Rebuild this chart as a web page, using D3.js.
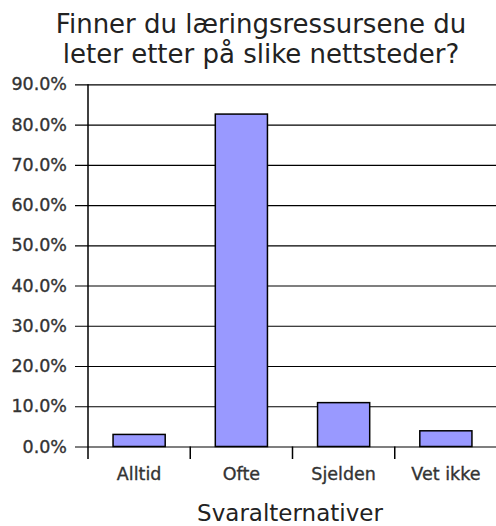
<!DOCTYPE html>
<html>
<head>
<meta charset="utf-8">
<script src="https://cdn.jsdelivr.net/npm/d3@7"></script>
<style>
  html, body { margin: 0; padding: 0; background: #fff; }
  svg { display: block; }
  text { font-family: "DejaVu Sans", sans-serif; }
</style>
</head>
<body>
<svg id="chart" width="496" height="526"></svg>
<script>
const titleLines = ["Finner du læringsressursene du", "leter etter på slike nettsteder?"];
const categories = ["Alltid", "Ofte", "Sjelden", "Vet ikke"];
const values = [3.0, 82.6, 10.9, 3.9];
const yTicks = [0, 10, 20, 30, 40, 50, 60, 70, 80, 90];
const xAxisTitle = "Svaralternativer";

const svg = d3.select("#chart");
const plotLeft = 88, plotRight = 497, plotTop = 84.3, plotBottom = 446.5;

const x = d3.scaleBand().domain(categories).range([plotLeft, plotRight]).paddingInner(0.49).paddingOuter(0.245);
const y = d3.scaleLinear().domain([0, 90]).range([plotBottom, plotTop]);

// title
svg.append("text")
  .attr("x", 261).attr("y", 33)
  .attr("text-anchor", "middle")
  .attr("font-size", 26)
  .attr("fill", "#222")
  .selectAll("tspan").data(titleLines).join("tspan")
  .attr("x", 261).attr("dy", (d, i) => i === 0 ? 0 : 30)
  .text(d => d);

// y grid + labels
const yAxis = d3.axisLeft(y).tickValues(yTicks)
  .tickSize(-(496 - 75)).tickPadding(8)
  .tickFormat(d => d.toFixed(1) + "%");
const gy = svg.append("g").attr("transform", "translate(75,0)").call(yAxis);
gy.select(".domain").remove();
gy.selectAll(".tick line").attr("stroke", "#000").attr("stroke-width", 1.2);
gy.selectAll(".tick text")
  .attr("font-family", "DejaVu Sans, sans-serif")
  .attr("font-size", 17.5)
  .attr("fill", "#333")
  .attr("stroke", "#333").attr("stroke-width", 0.35);

// bars
svg.append("g").selectAll("rect").data(categories).join("rect")
  .attr("x", d => x(d))
  .attr("y", (d, i) => y(values[i]))
  .attr("width", x.bandwidth())
  .attr("height", (d, i) => y(0) - y(values[i]))
  .attr("fill", "#9999ff")
  .attr("stroke", "#000")
  .attr("stroke-width", 1.5);

// y axis line
svg.append("line")
  .attr("x1", plotLeft).attr("x2", plotLeft)
  .attr("y1", y(90)).attr("y2", plotBottom + 12.5)
  .attr("stroke", "#000").attr("stroke-width", 1.5);

// x axis ticks at band boundaries + labels
const xAxis = d3.axisBottom(x).tickSize(0).tickPadding(21);
const gx = svg.append("g").attr("transform", `translate(0,${plotBottom})`).call(xAxis);
gx.select(".domain").remove();
gx.selectAll(".tick text")
  .attr("font-family", "DejaVu Sans, sans-serif")
  .attr("font-size", 17.5)
  .attr("fill", "#333")
  .attr("stroke", "#333").attr("stroke-width", 0.35);
svg.append("g").selectAll("line").data(categories.slice(1)).join("line")
  .attr("x1", d => x(d) - x.step() * x.paddingInner() / 2)
  .attr("x2", d => x(d) - x.step() * x.paddingInner() / 2)
  .attr("y1", plotBottom).attr("y2", plotBottom + 12.5)
  .attr("stroke", "#000").attr("stroke-width", 1.5);

// x axis title
svg.append("text")
  .attr("x", 290).attr("y", 521)
  .attr("text-anchor", "middle")
  .attr("font-size", 23)
  .attr("fill", "#222")
  .text(xAxisTitle);
</script>
</body>
</html>
